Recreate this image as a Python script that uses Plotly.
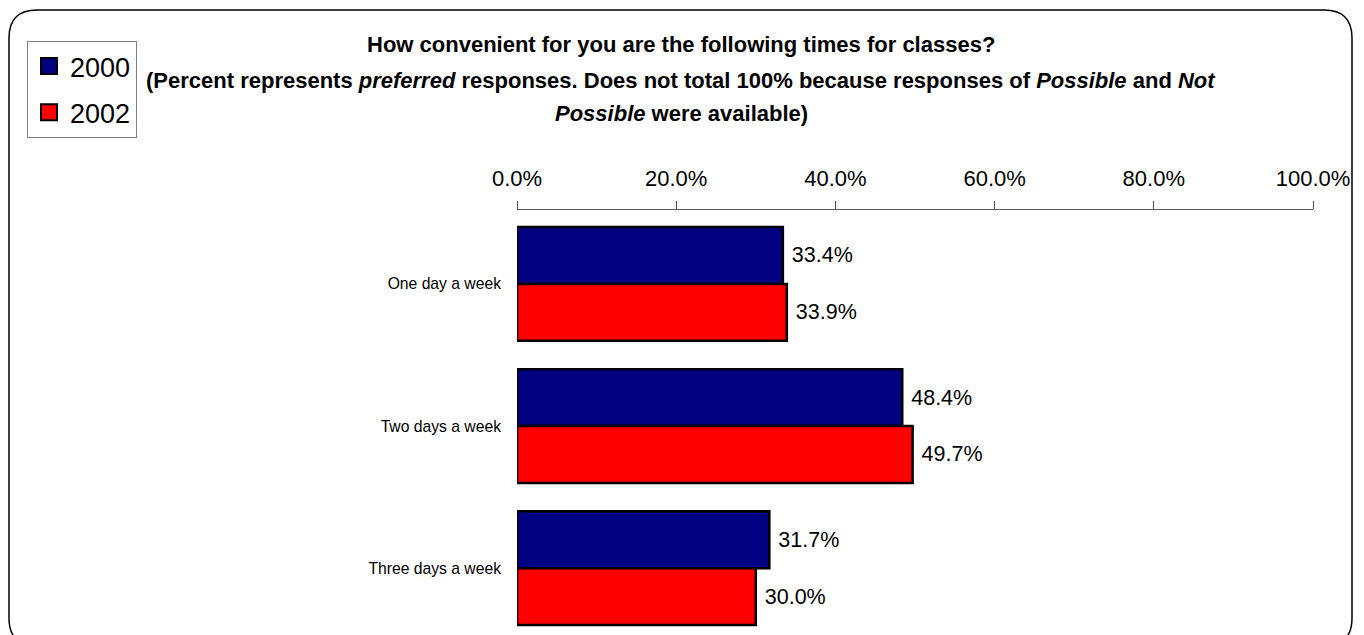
import plotly.graph_objects as go

# ── Data ──────────────────────────────────────────────────────────────
CATEGORIES = ["One day a week", "Two days a week", "Three days a week"]
YEARS = ["2000", "2002"]
PCT_2000 = [33.4, 48.4, 31.7]
PCT_2002 = [33.9, 49.7, 30.0]
TICK_VALUES = [0, 20, 40, 60, 80, 100]

# ── Style ─────────────────────────────────────────────────────────────
COLORS = {"2000": "#000080", "2002": "#FF0000"}
FONT = "Liberation Sans, Arial, sans-serif"
W, H = 1364, 635
PAGE_OFFSET = 8  # body margin of the html page


def px_x(x):
    return (x - PAGE_OFFSET) / W


def px_y(y):
    return 1 - (y - PAGE_OFFSET) / H


def rounded_box(x0, y0, x1, y1, r):
    # path in paper coordinates, built from pixel positions
    pts = [
        f"M{px_x(x0 + r)},{px_y(y0)}",
        f"L{px_x(x1 - r)},{px_y(y0)}",
        f"Q{px_x(x1)},{px_y(y0)} {px_x(x1)},{px_y(y0 + r)}",
        f"L{px_x(x1)},{px_y(y1 - r)}",
        f"Q{px_x(x1)},{px_y(y1)} {px_x(x1 - r)},{px_y(y1)}",
        f"L{px_x(x0 + r)},{px_y(y1)}",
        f"Q{px_x(x0)},{px_y(y1)} {px_x(x0)},{px_y(y1 - r)}",
        f"L{px_x(x0)},{px_y(y0 + r)}",
        f"Q{px_x(x0)},{px_y(y0)} {px_x(x0 + r)},{px_y(y0)}",
        "Z",
    ]
    return " ".join(pts)


fig = go.Figure()

for year, vals in zip(YEARS, [PCT_2000, PCT_2002]):
    fig.add_trace(
        go.Bar(
            y=CATEGORIES,
            x=vals,
            orientation="h",
            name=year,
            marker=dict(color=COLORS[year], line=dict(color="black", width=2.5)),
            text=[f" {v:.1f}%" for v in vals],
            textposition="outside",
            textfont=dict(size=21.5, color="black", family=FONT),
            cliponaxis=False,
            showlegend=False,
        )
    )
    # legend swatch (bigger square than the default bar icon)
    fig.add_trace(
        go.Scatter(
            x=[None],
            y=[None],
            mode="markers",
            name=year,
            legendgroup=year,
            marker=dict(symbol="square", size=16, color=COLORS[year],
                        line=dict(color="black", width=2)),
        )
    )

# ── Title (three centred lines) ───────────────────────────────────────
TITLE_LINES = [
    "How convenient for you are the following times for classes?",
    "(Percent represents <i>preferred</i> responses. Does not total 100% because "
    "responses of <i>Possible</i> and <i>Not</i>",
    "<i>Possible</i> were available)",
]
for line, y in zip(TITLE_LINES, [45, 80, 113]):
    fig.add_annotation(
        x=px_x(681), y=px_y(y), xref="paper", yref="paper",
        text=f"<b>{line}</b>", showarrow=False,
        xanchor="center", yanchor="middle",
        font=dict(size=22, color="black", family=FONT),
    )

fig.add_shape(
    type="path", xref="paper", yref="paper",
    path=rounded_box(9, 10, 1352, 646, 28),
    line=dict(color="black", width=1.5),
)

fig.update_xaxes(
    side="top",
    range=[0, 100],
    domain=[px_x(517), px_x(1313)],
    tickvals=TICK_VALUES,
    ticktext=[f"{v:.1f}%" for v in TICK_VALUES],
    tickfont=dict(size=22, color="black", family=FONT),
    ticks="outside",
    ticklen=8,
    tickcolor="#555",
    showline=True,
    linecolor="#555",
    linewidth=1,
    showgrid=False,
    zeroline=False,
    ticklabelstandoff=6,
    automargin=False,
)

fig.update_yaxes(
    categoryorder="array",
    categoryarray=CATEGORIES,
    range=[2.47, -0.52],
    domain=[px_y(635), px_y(210)],
    tickfont=dict(size=15.7, color="black", family=FONT),
    showline=False,
    showgrid=False,
    zeroline=False,
    ticks="",
    ticklabelstandoff=15,
    automargin=False,
)

fig.update_layout(
    width=W,
    height=H,
    margin=dict(l=0, r=0, t=0, b=0),
    paper_bgcolor="white",
    plot_bgcolor="white",
    barmode="group",
    bargap=0.2,
    bargroupgap=0,
    font=dict(family=FONT, color="black"),
    legend=dict(
        x=px_x(27), y=px_y(41), xanchor="left", yanchor="top",
        bordercolor="#808080", borderwidth=1, bgcolor="white",
        font=dict(size=27, family=FONT, color="black"),
        tracegroupgap=8,
        itemwidth=32,
    ),
)

fig.write_html("out.html")
